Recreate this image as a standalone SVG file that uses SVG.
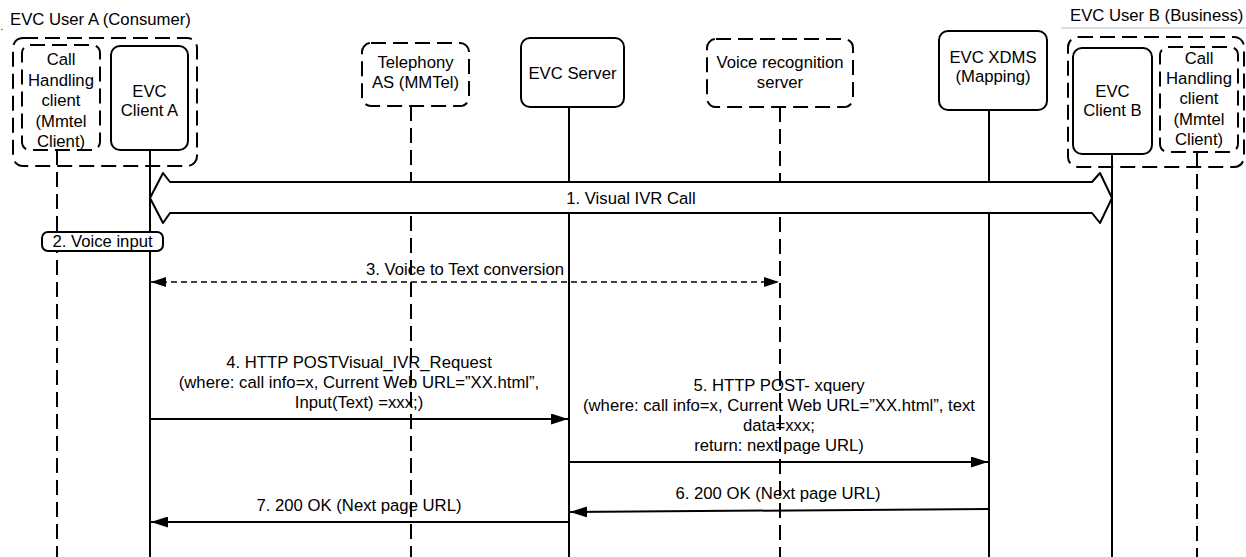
<svg xmlns="http://www.w3.org/2000/svg" width="1246" height="557" viewBox="0 0 1246 557">
<defs>
<style>
text{font-family:"Liberation Sans",Arial,Helvetica,sans-serif;font-size:16.7px;fill:#000}
.c{text-anchor:middle}
.sb{fill:#fff;stroke:#000;stroke-width:2}
.db{fill:#fff;stroke:#000;stroke-width:2;stroke-dasharray:15 7}
.ob{fill:none;stroke:#000;stroke-width:2;stroke-dasharray:15 7}
.ll{stroke:#000;stroke-width:2;fill:none}
.dl{stroke:#000;stroke-width:2;fill:none;stroke-dasharray:15 7}
.msg{stroke:#000;stroke-width:2;fill:none}
.dmsg{stroke:#000;stroke-width:1.5;fill:none;stroke-dasharray:6 4}
</style>
<marker id="ah" viewBox="0 0 17 11" refX="17" refY="5.5" markerWidth="17" markerHeight="11" markerUnits="userSpaceOnUse" orient="auto-start-reverse"><path d="M0,0 L17,5.5 L0,11 Z" fill="#000"/></marker>
<marker id="ahs" viewBox="0 0 15 10" refX="15" refY="5" markerWidth="15" markerHeight="10" markerUnits="userSpaceOnUse" orient="auto-start-reverse"><path d="M0,0 L15,5 L0,10 Z" fill="#000"/></marker>
</defs>
<rect width="1246" height="557" fill="#fff"/>

<g id="userA">
<text x="10" y="24.5">EVC User A (Consumer)</text>
<circle cx="2" cy="29.5" r="0.8" fill="#555"/>
<rect class="ob" x="13" y="38" width="184" height="128" rx="10"/>
</g>
<g id="userB">
<text x="1070" y="21">EVC User B (Business)</text>
<line x1="1061" y1="28" x2="1246" y2="28" stroke="#bbb" stroke-width="1"/>
<rect class="ob" x="1068" y="37" width="176" height="130" rx="10"/>
</g>

<g id="callHandlingA">
<line class="dl" x1="57" y1="150" x2="57" y2="557"/>
<rect class="db" x="22" y="45" width="78" height="105" rx="8"/>
<text class="c" x="61" y="65">Call</text>
<text class="c" x="61" y="85.5">Handling</text>
<text class="c" x="61" y="106">client</text>
<text class="c" x="61" y="126.5">(Mmtel</text>
<text class="c" x="61" y="147">Client)</text>
</g>
<g id="evcClientA">
<line class="ll" x1="150" y1="150" x2="150" y2="557"/>
<rect class="sb" x="111" y="46" width="77" height="104" rx="9"/>
<text class="c" x="149.5" y="97">EVC</text>
<text class="c" x="149.5" y="115.5">Client A</text>
</g>
<g id="telephonyAS">
<line class="dl" x1="411" y1="106" x2="411" y2="557"/>
<rect class="db" x="362" y="43" width="107" height="63" rx="9"/>
<text class="c" x="415.5" y="68">Telephony</text>
<text class="c" x="415.5" y="88">AS (MMTel)</text>
</g>
<g id="evcServer">
<line class="ll" x1="569" y1="107" x2="569" y2="557"/>
<rect class="sb" x="521" y="38" width="103" height="69" rx="9"/>
<text class="c" x="572.5" y="79">EVC Server</text>
</g>
<g id="voiceRecognitionServer">
<line class="dl" x1="780" y1="107" x2="780" y2="557"/>
<rect class="db" x="707" y="39" width="146" height="68" rx="9"/>
<text class="c" x="780" y="68">Voice recognition</text>
<text class="c" x="780" y="88">server</text>
</g>
<g id="evcXdms">
<line class="ll" x1="989" y1="110" x2="989" y2="557"/>
<rect class="sb" x="939" y="31" width="108" height="79" rx="9"/>
<text class="c" x="993" y="63">EVC XDMS</text>
<text class="c" x="993" y="82">(Mapping)</text>
</g>
<g id="evcClientB">
<line class="ll" x1="1112" y1="154" x2="1112" y2="557"/>
<rect class="sb" x="1073" y="48" width="79" height="106" rx="9"/>
<text class="c" x="1112.5" y="97">EVC</text>
<text class="c" x="1112.5" y="116">Client B</text>
</g>
<g id="callHandlingB">
<line class="dl" x1="1197" y1="152" x2="1197" y2="557"/>
<rect class="db" x="1160" y="47" width="78" height="105" rx="8"/>
<text class="c" x="1199" y="64">Call</text>
<text class="c" x="1199" y="84">Handling</text>
<text class="c" x="1199" y="104">client</text>
<text class="c" x="1199" y="124.5">(Mmtel</text>
<text class="c" x="1199" y="144.5">Client)</text>
</g>

<g id="voiceInput">
<rect class="sb" x="42" y="232" width="121" height="19" rx="6"/>
<text class="c" x="102.5" y="247">2. Voice input</text>
</g>

<g id="connectors">
<path d="M150,198 L163,173 L170,182 L1092,182 L1100,173 L1112,198 L1100,223 L1092,213 L170,213 L163,223 Z" fill="#fff" stroke="#000" stroke-width="2" stroke-linejoin="round"/>
<text class="c" x="631" y="204">1. Visual IVR Call</text>

<line class="dmsg" x1="151" y1="282" x2="779" y2="282" marker-start="url(#ahs)" marker-end="url(#ahs)"/>
<text class="c" x="465" y="275">3. Voice to Text conversion</text>

<line class="msg" x1="150" y1="419" x2="568" y2="419" marker-end="url(#ah)"/>
<text class="c" x="359" y="368">4. HTTP POSTVisual_IVR_Request</text>
<text class="c" x="359" y="388">(where: call info=x, Current Web URL=”XX.html”,</text>
<text class="c" x="359" y="407.5">Input(Text) =xxx;)</text>

<line class="msg" x1="569" y1="462" x2="988" y2="462" marker-end="url(#ah)"/>
<text class="c" x="779" y="391">5. HTTP POST- xquery</text>
<text class="c" x="779" y="411">(where: call info=x, Current Web URL=”XX.html”, text</text>
<text class="c" x="779" y="431">data=xxx;</text>
<text class="c" x="779" y="450.5">return: next page URL)</text>

<line class="msg" x1="989" y1="509" x2="570" y2="512" marker-end="url(#ah)"/>
<text class="c" x="778" y="499">6. 200 OK (Next page URL)</text>

<line class="msg" x1="569" y1="522" x2="151" y2="522" marker-end="url(#ah)"/>
<text class="c" x="359" y="511">7. 200 OK (Next page URL)</text>
</g>
</svg>
